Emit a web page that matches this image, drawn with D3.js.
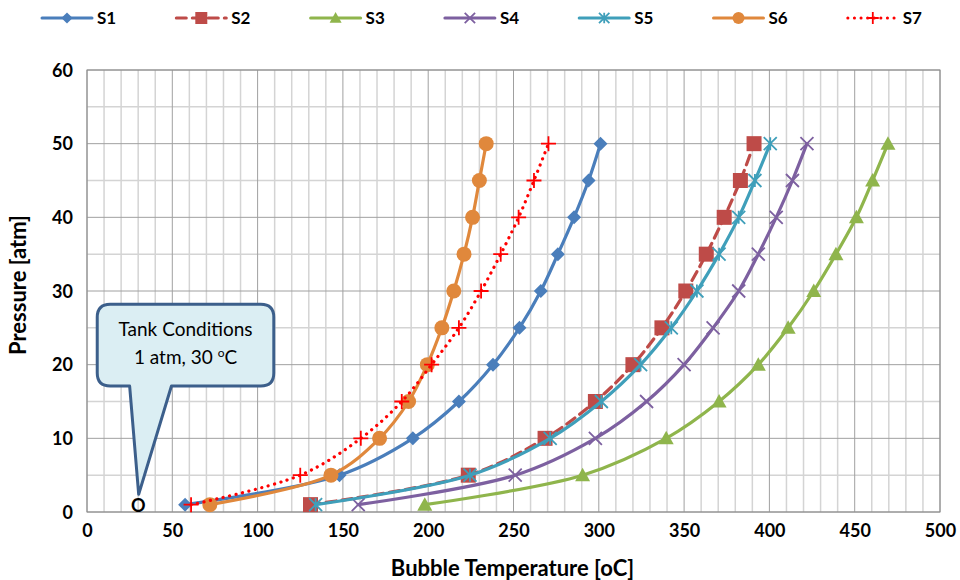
<!DOCTYPE html>
<html>
<head>
<meta charset="utf-8">
<script src="https://cdn.jsdelivr.net/npm/d3@7"></script>
<style>
  body { margin: 0; background: #fff; }
  text { font-family: Lato, "Open Sans", sans-serif; }
</style>
</head>
<body>
<div id="chart"></div>
<script>
// data
const pressures = [1, 5, 10, 15, 20, 25, 30, 35, 40, 45, 50];
const s1 = [57.5, 148, 191, 218, 238, 253.5, 266, 276, 285.5, 294, 301];
const s2 = [131, 223.5, 268.5, 298, 320, 337, 351, 363, 373.5, 383, 391];
const s3 = [198, 290.5, 339.5, 370.5, 393.5, 411, 426, 439, 451, 460.5, 469.5];
const s4 = [159, 251, 298, 328, 350, 367, 382, 393.5, 404, 413.5, 422];
const s5 = [134, 224.5, 271.5, 301.5, 324.5, 342.5, 357.5, 370.5, 382, 391.5, 400.5];
const s6 = [72, 143, 171.5, 188.5, 199.5, 208, 215, 221, 226, 230, 234];
const s7 = [61, 125, 160.5, 184.5, 202, 218, 231, 242.5, 253, 262, 270.5];
const seriesNames = ["S1", "S2", "S3", "S4", "S5", "S6", "S7"];
const tempTicks = [0, 50, 100, 150, 200, 250, 300, 350, 400, 450, 500];
const pressureTicks = [0, 10, 20, 30, 40, 50, 60];
const tank = { t: 30, p: 1 };

const W = 960, H = 580;
const margin = { top: 70, right: 20, bottom: 68, left: 87 };
const width = W - margin.left - margin.right;
const height = H - margin.top - margin.bottom;

const x = d3.scaleLinear().domain([0, 500]).range([0, width]);
const y = d3.scaleLinear().domain([0, 60]).range([height, 0]);

const svg = d3.select("#chart").append("svg")
    .attr("width", W).attr("height", H);
const g = svg.append("g")
    .attr("transform", `translate(${margin.left},${margin.top})`);

// grid - minor first, then major
const minorX = d3.range(0, 501, 10).filter(d => d % 50 !== 0);
const minorY = d3.range(0, 61, 5).filter(d => d % 10 !== 0);
g.selectAll(".gx-minor").data(minorX).enter().append("line")
    .attr("x1", d => x(d)).attr("x2", d => x(d))
    .attr("y1", 0).attr("y2", height)
    .attr("stroke", "#d4d4d4").attr("stroke-width", 1.5);
g.selectAll(".gy-minor").data(minorY).enter().append("line")
    .attr("y1", d => y(d)).attr("y2", d => y(d))
    .attr("x1", 0).attr("x2", width)
    .attr("stroke", "#d4d4d4").attr("stroke-width", 1.5);
g.selectAll(".gx-major").data(tempTicks).enter().append("line")
    .attr("x1", d => x(d)).attr("x2", d => x(d))
    .attr("y1", 0).attr("y2", height)
    .attr("stroke", "#a0a0a0").attr("stroke-width", 1);
g.selectAll(".gy-major").data(pressureTicks).enter().append("line")
    .attr("y1", d => y(d)).attr("y2", d => y(d))
    .attr("x1", 0).attr("x2", width)
    .attr("stroke", "#a0a0a0").attr("stroke-width", 1);
g.append("rect").attr("width", width).attr("height", height)
    .attr("fill", "none").attr("stroke", "#8c8c8c");

// axes
const xAxis = g.append("g")
    .attr("transform", `translate(0,${height})`)
    .call(d3.axisBottom(x).tickValues(tempTicks).tickSize(0).tickPadding(12));
const yAxis = g.append("g")
    .call(d3.axisLeft(y).tickValues(pressureTicks).tickSize(0).tickPadding(14));
[xAxis, yAxis].forEach(a => {
  a.select(".domain").remove();
  a.selectAll("text").style("font-size", "18px").style("font-weight", "bold")
    .style("font-family", "Lato, sans-serif").attr("fill", "#000");
});
yAxis.selectAll("text").attr("dy", "0.35em");

svg.append("text")
    .attr("x", margin.left + width / 2 - 1).attr("y", 576)
    .attr("text-anchor", "middle")
    .style("font-size", "22px").style("font-weight", "bold")
    .text("Bubble Temperature [oC]");
svg.append("text")
    .attr("transform", `translate(26,${margin.top + height / 2 - 6}) rotate(-90)`)
    .attr("text-anchor", "middle")
    .style("font-size", "22px").style("font-weight", "bold")
    .text("Pressure [atm]");

// marker shapes
function markerPath(type, s) {
  const h = s / 2;
  switch (type) {
    case "diamond": return `M0,${-h}L${h},0L0,${h}L${-h},0Z`;
    case "square": return `M${-h},${-h}H${h}V${h}H${-h}Z`;
    case "triangle": return `M0,${-h}L${h},${h * 0.8}L${-h},${h * 0.8}Z`;
    case "x": return `M${-h},${-h}L${h},${h}M${-h},${h}L${h},${-h}`;
    case "star": return `M${-h},${-h}L${h},${h}M${-h},${h}L${h},${-h}M0,${-h}V${h}`;
    case "circle": return d3.symbol(d3.symbolCircle, Math.PI * h * h)();
    case "plus": return `M${-h},0H${h}M0,${-h}V${h}`;
  }
}

const series = [
  { name: seriesNames[0], temps: s1, color: "#4a7ebb", marker: "diamond", size: 14, filled: true, dash: null },
  { name: seriesNames[1], temps: s2, color: "#be4b48", marker: "square", size: 15, filled: true, dash: "10,6" },
  { name: seriesNames[2], temps: s3, color: "#8fb54c", marker: "triangle", size: 15, filled: true, dash: null },
  { name: seriesNames[3], temps: s4, color: "#7d60a0", marker: "x", size: 13, filled: false, dash: null },
  { name: seriesNames[4], temps: s5, color: "#3f9fba", marker: "star", size: 13, filled: false, dash: null },
  { name: seriesNames[5], temps: s6, color: "#e0883c", marker: "circle", size: 15, filled: true, dash: null },
  { name: seriesNames[6], temps: s7, color: "#ff0000", marker: "plus", size: 15, filled: false, dash: "0.1,6.5" }
];

const line = d3.line()
    .x(d => x(d.t)).y(d => y(d.p))
    .curve(d3.curveCatmullRom.alpha(0.5));

series.forEach(s => {
  const pts = s.temps.map((t, i) => ({ t: t, p: pressures[i] }));
  g.append("path")
      .datum(pts)
      .attr("fill", "none")
      .attr("stroke", s.color)
      .attr("stroke-width", 3.2)
      .attr("stroke-linecap", "round")
      .attr("stroke-dasharray", s.dash)
      .attr("d", line);
  g.selectAll(null).data(pts).enter().append("path")
      .attr("transform", d => `translate(${x(d.t)},${y(d.p)})`)
      .attr("d", markerPath(s.marker, s.size))
      .attr("fill", s.filled ? s.color : "none")
      .attr("stroke", s.color)
      .attr("stroke-width", s.filled ? 0 : 1.8);
});

// tank conditions callout
const cl = x(6), cr = x(109.5), ct = y(28.2), cb = y(17.1), r = 13;
const bx1 = x(25), bx2 = x(49.5);
const tx = x(tank.t) + 0.5, ty = y(2.4);
const calloutPath = `M${cl + r},${ct} H${cr - r} Q${cr},${ct} ${cr},${ct + r}` +
  ` V${cb - r} Q${cr},${cb} ${cr - r},${cb} H${bx2} L${tx},${ty} L${bx1},${cb}` +
  ` H${cl + r} Q${cl},${cb} ${cl},${cb - r} V${ct + r} Q${cl},${ct} ${cl + r},${ct}Z`;
g.append("path").attr("d", calloutPath)
    .attr("fill", "#dbeef3").attr("stroke", "#3c5f8b").attr("stroke-width", 3)
    .attr("stroke-linejoin", "round");
const cx = (cl + cr) / 2;
g.append("text").attr("x", cx).attr("y", ct + 32).attr("text-anchor", "middle")
    .style("font-size", "19px").text("Tank Conditions");
const t2 = g.append("text").attr("x", cx).attr("y", ct + 60).attr("text-anchor", "middle")
    .style("font-size", "19px");
t2.append("tspan").text("1 atm, 30 ");
t2.append("tspan").attr("dy", -7).style("font-size", "12px").text("o");
t2.append("tspan").attr("dy", 7).text("C");
g.append("text").attr("x", x(tank.t)).attr("y", y(tank.p)).attr("dy", "0.4em")
    .attr("text-anchor", "middle")
    .style("font-size", "18px").style("font-weight", "bold").text("O");

// legend
const legend = svg.append("g").attr("transform", "translate(42,18)");
series.forEach((s, i) => {
  const lg = legend.append("g").attr("transform", `translate(${i * 134.3},0)`);
  lg.append("line").attr("x1", 0).attr("x2", 50).attr("y1", 0).attr("y2", 0)
      .attr("stroke", s.color).attr("stroke-width", 3).attr("stroke-linecap", "round")
      .attr("stroke-dasharray", s.dash);
  lg.append("path").attr("transform", "translate(25,0)")
      .attr("d", markerPath(s.marker, s.size * 0.8))
      .attr("fill", s.filled ? s.color : "none")
      .attr("stroke", s.color).attr("stroke-width", s.filled ? 0 : 1.8);
  lg.append("text").attr("x", 55).attr("dy", "0.35em")
      .style("font-size", "17px").style("font-weight", "bold").text(s.name);
});
</script>
</body>
</html>
